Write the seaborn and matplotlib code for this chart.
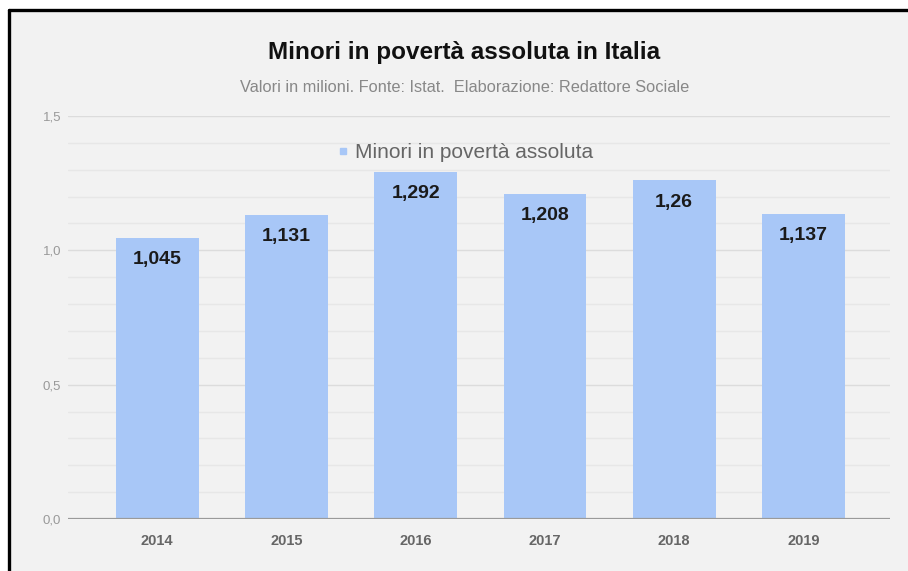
import matplotlib
matplotlib.use("Agg")
import matplotlib.pyplot as plt
import seaborn as sns
import pandas as pd
import numpy as np
from matplotlib.lines import Line2D
from matplotlib.patches import Rectangle

anni = ["2014", "2015", "2016", "2017", "2018", "2019"]
minori = [1.045, 1.131, 1.292, 1.208, 1.26, 1.137]
etichette = ["1,045", "1,131", "1,292", "1,208", "1,26", "1,137"]
y_ticks = [0.0, 0.5, 1.0, 1.5]
y_tick_labels = ["0,0", "0,5", "1,0", "1,5"]

titolo = "Minori in povertà assoluta in Italia"
sottotitolo = "Valori in milioni. Fonte: Istat.  Elaborazione: Redattore Sociale"
serie = "Minori in povertà assoluta"

BAR = "#a8c7f7"
BG = "#f2f2f2"

sns.set_theme(style="white")
plt.rcParams["font.family"] = ["Liberation Sans", "DejaVu Sans"]

W, H = 908, 571
fig = plt.figure(figsize=(W / 100, H / 100), dpi=100, facecolor="white")

# panel background and the dark frame on top and left
fig.patches.append(Rectangle((9 / W, 0), 1 - 9 / W, 1 - 9 / H, transform=fig.transFigure,
                             facecolor=BG, edgecolor="none", zorder=-5))
fig.lines.append(Line2D([9 / W, 1], [1 - 9.5 / H, 1 - 9.5 / H], transform=fig.transFigure,
                        color="black", lw=2.4, zorder=5))
fig.lines.append(Line2D([9 / W, 9 / W], [0, 1 - 9.5 / H], transform=fig.transFigure,
                        color="black", lw=2.4, zorder=5))

ax = fig.add_axes([68 / W, (H - 519) / H, (890 - 68) / W, (519 - 116) / H])
ax.set_zorder(1)
ax.set_facecolor(BG)

df = pd.DataFrame({"anno": anni, "valore": minori})
sns.barplot(data=df, x="anno", y="valore", color=BAR, saturation=1, width=0.64,
            linewidth=0, ax=ax, zorder=3)

ax.set_ylim(0, 1.5)
ax.set_xlim(-0.5 - 0.19, len(anni) - 0.5 + 0.17)

# grid: major and minor lines
for v in np.arange(0.1, 1.5001, 0.1):
    major = abs(v * 2 - round(v * 2)) < 1e-6
    ax.axhline(v, color="#dcdcdc" if major else "#e7e7e7", lw=1.0, zorder=1)
ax.axhline(0, color="#9a9a9a", lw=1.6, zorder=4)

ax.set_yticks(y_ticks)
ax.set_yticklabels(y_tick_labels, fontsize=9.5, color="#999999")
ax.tick_params(axis="y", length=0, pad=5)
ax.tick_params(axis="x", length=0, pad=11, labelsize=10.5, labelcolor="#666666")
for lab in ax.get_xticklabels():
    lab.set_fontweight("bold")
ax.set_xlabel("")
ax.set_ylabel("")
for s in ax.spines.values():
    s.set_visible(False)

# value labels inside the top of each bar
for i, (v, t) in enumerate(zip(minori, etichette)):
    ax.annotate(t, (i, v), xytext=(0, -15.5), textcoords="offset points",
                ha="center", va="center", fontsize=14, fontweight="bold",
                color="#1a1a1a", zorder=6)

handle = Line2D([], [], marker="s", linestyle="none", markersize=5,
                markerfacecolor=BAR, markeredgecolor=BAR)
leg = ax.legend([handle], [serie], loc="center", bbox_to_anchor=(464 / W, (H - 153) / H),
                bbox_transform=fig.transFigure, frameon=False, fontsize=15,
                handletextpad=0.15, handlelength=0.8)
for t in leg.get_texts():
    t.set_color("#666666")

fig.text(464 / W, 1 - 52 / H, titolo, ha="center", va="center", fontsize=17.5,
         fontweight="bold", color="#111111")
fig.text(465 / W, 1 - 87 / H, sottotitolo, ha="center", va="center", fontsize=11.8,
         color="#888888")

fig.savefig("out.png", dpi=100, facecolor="white")
